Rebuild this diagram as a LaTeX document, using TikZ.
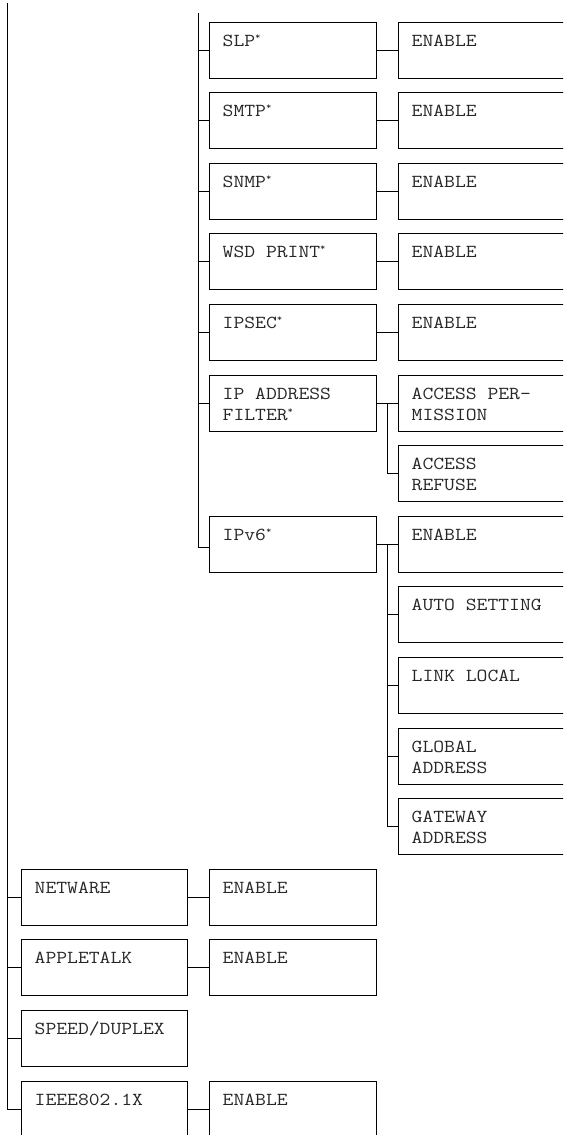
\documentclass[tikz,border=0pt]{standalone}
\usepackage{fontspec}
\setmonofont{Latin Modern Mono}[FakeStretch=1.15]
\newcommand{\mytwo}[2]{\vtop{\baselineskip=21pt\hbox{#1}\hbox{#2}}}
\newcommand{\stst}{\raisebox{6.5pt}{\fontsize{9}{9}\selectfont *}}
\newcommand{\mkbox}[5]{\node[#2] (#1) at (#3,#4) {};
  \node[lbl] (#1-t) at ([xshift=14pt,yshift=-24.5pt]#1.north west) {#5};}
\begin{document}
\begin{tikzpicture}[x=1pt,y=-1pt,
  box/.style={draw, line width=1.7pt, minimum height=56pt, inner sep=0pt, anchor=north west},
  wa/.style={box, minimum width=166pt},
  wb/.style={box, minimum width=167pt},
  wd/.style={box, minimum width=230pt},
  lbl/.style={anchor=base west, inner sep=0pt, font=\ttfamily\fontsize{18.3}{21}\selectfont, text=black!85},
  wire/.style={line width=1.7pt}]
\clip (0,0) rectangle (563,1135);
\fill[white] (0,0) rectangle (563,1135);
% second column
\mkbox{slp}{wb}{208.5}{21.5}{SLP\stst}
\mkbox{smtp}{wb}{208.5}{91.5}{SMTP\stst}
\mkbox{snmp}{wb}{208.5}{162.5}{SNMP\stst}
\mkbox{wsd}{wb}{208.5}{232.5}{WSD PRINT\stst}
\mkbox{ipsec}{wb}{208.5}{303.5}{IPSEC\stst}
\mkbox{ipf}{wb}{208.5}{374.5}{\mytwo{IP ADDRESS}{FILTER\stst}}
\mkbox{ipv6}{wb}{208.5}{515.5}{IPv6\stst}
% third column
\mkbox{slpE}{wd}{397.5}{21.5}{ENABLE}
\mkbox{smtpE}{wd}{397.5}{91.5}{ENABLE}
\mkbox{snmpE}{wd}{397.5}{162.5}{ENABLE}
\mkbox{wsdE}{wd}{397.5}{232.5}{ENABLE}
\mkbox{ipsecE}{wd}{397.5}{303.5}{ENABLE}
\mkbox{perm}{wd}{397.5}{374.5}{\mytwo{ACCESS PER-}{MISSION}}
\mkbox{refuse}{wd}{397.5}{444.5}{\mytwo{ACCESS}{REFUSE}}
\mkbox{v6en}{wd}{397.5}{515.5}{ENABLE}
\mkbox{auto}{wd}{397.5}{585.5}{AUTO SETTING}
\mkbox{link}{wd}{397.5}{656.5}{LINK LOCAL}
\mkbox{global}{wd}{397.5}{727.5}{\mytwo{GLOBAL}{ADDRESS}}
\mkbox{gateway}{wd}{397.5}{797.5}{\mytwo{GATEWAY}{ADDRESS}}
% first column
\mkbox{netware}{wa}{20.5}{868.5}{NETWARE}
\mkbox{appletalk}{wa}{20.5}{938.5}{APPLETALK}
\mkbox{speed}{wa}{20.5}{1009.5}{SPEED/DUPLEX}
\mkbox{ieee}{wa}{20.5}{1080.5}{IEEE802.1X}
\mkbox{netwareE}{wb}{208.5}{868.5}{ENABLE}
\mkbox{appletalkE}{wb}{208.5}{938.5}{ENABLE}
\mkbox{ieeeE}{wb}{208.5}{1080.5}{ENABLE}
% connectors
\coordinate (ltop) at (7.5,3);
\coordinate (mtop) at (198.5,13);
\coordinate (j1) at (387.5,0);
\draw[wire] (ltop) |- (ieee.west);
\foreach \n in {netware,appletalk,speed} \draw[wire] (\n.west) -- (\n.west -| ltop);
\draw[wire] (mtop) |- ([yshift=-3pt]ipv6.west);
\foreach \n in {slp,smtp,snmp,wsd,ipsec,ipf} \draw[wire] (\n.west) -- (\n.west -| mtop);
\draw[wire] (slp.east) -- (slpE.west);
\draw[wire] (smtp.east) -- (smtpE.west);
\draw[wire] (snmp.east) -- (snmpE.west);
\draw[wire] (wsd.east) -- (wsdE.west);
\draw[wire] (ipsec.east) -- (ipsecE.west);
\draw[wire] (ipf.east) -- (perm.west);
\draw[wire] (ipv6.east) -- (v6en.west);
\draw[wire] (netware.east) -- (netwareE.west);
\draw[wire] (appletalk.east) -- (appletalkE.west);
\draw[wire] (ieee.east) -- (ieeeE.west);
\draw[wire] (ipf.east -| j1) |- (refuse.west);
\draw[wire] (ipv6.east -| j1) |- (gateway.west);
\foreach \n in {auto,link,global} \draw[wire] (\n.west) -- (\n.west -| j1);
\end{tikzpicture}
\end{document}
